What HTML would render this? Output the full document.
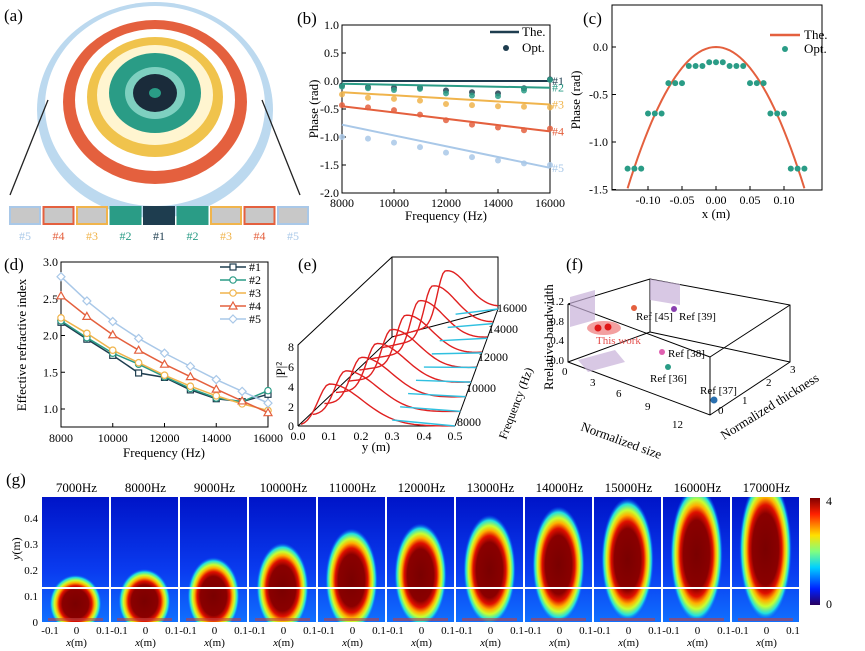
<!DOCTYPE html>
<html><head><meta charset="utf-8"><style>
body{margin:0;background:#fff}
svg{display:block;font-family:"Liberation Serif",serif}
</style></head><body>
<svg id="root" width="865" height="651" viewBox="0 0 865 651">
<defs>
 <radialGradient id="blob" cx="50%" cy="50%" r="50%">
  <stop offset="0" stop-color="#7a0000"/><stop offset="0.5" stop-color="#8a0000"/><stop offset="0.62" stop-color="#e01000"/>
  <stop offset="0.72" stop-color="#ffb000"/><stop offset="0.8" stop-color="#c8ff30"/><stop offset="0.9" stop-color="#20e0e0"/>
  <stop offset="1" stop-color="#0040ff" stop-opacity="0"/>
 </radialGradient>
 <linearGradient id="bg" x1="0" y1="0" x2="0" y2="1"><stop offset="0" stop-color="#0014c8"/><stop offset="0.6" stop-color="#0a3cf0"/><stop offset="1" stop-color="#1070ff"/></linearGradient>
 <linearGradient id="cbar" x1="0" y1="1" x2="0" y2="0">
  <stop offset="0" stop-color="#2a0060"/><stop offset="0.15" stop-color="#0020ff"/><stop offset="0.35" stop-color="#00d0ff"/>
  <stop offset="0.5" stop-color="#80ff80"/><stop offset="0.65" stop-color="#ffe000"/><stop offset="0.85" stop-color="#ff2000"/><stop offset="1" stop-color="#800000"/>
 </linearGradient>
</defs>

<g>
 <text x="4" y="21" font-size="17">(a)</text>
 <ellipse cx="155" cy="110" rx="118" ry="108" fill="#bcd9ef"/>
 <ellipse cx="155" cy="106" rx="110" ry="100" fill="#fff"/>
 <ellipse cx="155" cy="102" rx="92" ry="82" fill="#e4603e"/>
 <ellipse cx="155" cy="100" rx="80" ry="71" fill="#fff"/>
 <ellipse cx="155" cy="97" rx="68" ry="60" fill="#f0c34c"/>
 <ellipse cx="155" cy="95" rx="58" ry="50" fill="#fff5d0"/>
 <ellipse cx="155" cy="93" rx="46" ry="40" fill="#2a9c86"/>
 <ellipse cx="155" cy="93" rx="30" ry="26" fill="#7ed0c0"/>
 <ellipse cx="155" cy="93" rx="22" ry="19" fill="#1a2b3a"/>
 <ellipse cx="155" cy="93" rx="6" ry="5" fill="#2a9c86"/>
 <line x1="48" y1="100" x2="10" y2="195" stroke="#222" stroke-width="1.3"/>
 <line x1="262" y1="100" x2="300" y2="195" stroke="#222" stroke-width="1.3"/>
 <g id="cells"></g>
</g>

<g id="pb">
 <text x="297" y="24" font-size="17">(b)</text>
</g>
<g id="pc">
 <text x="583" y="24" font-size="17">(c)</text>
</g>
<g id="pd">
 <text x="4" y="270" font-size="17">(d)</text>
</g>

<g id="pe">
 <text x="298" y="270" font-size="17">(e)</text>
 <polyline points="298,426 298,345 392,257 498,257 498,309" fill="none" stroke="#000" stroke-width="1"/>
 <line x1="298" y1="426" x2="392" y2="337" stroke="#000"/>
 <line x1="392" y1="257" x2="392" y2="337" stroke="#000"/>
 <line x1="392" y1="337" x2="498" y2="309" stroke="#000"/>
 <line x1="298" y1="426" x2="455" y2="426" stroke="#000"/>
 <line x1="455" y1="426" x2="498" y2="309" stroke="#000"/>
 <g id="ecurves"></g>
 <g font-size="12">
  <text x="298" y="440" text-anchor="middle">0.0</text><text x="329" y="440" text-anchor="middle">0.1</text>
  <text x="361" y="440" text-anchor="middle">0.2</text><text x="392" y="440" text-anchor="middle">0.3</text>
  <text x="424" y="440" text-anchor="middle">0.4</text><text x="455" y="440" text-anchor="middle">0.5</text>
  <text x="294" y="430" text-anchor="end">0</text><text x="294" y="411" text-anchor="end">2</text>
  <text x="294" y="391" text-anchor="end">4</text><text x="294" y="371" text-anchor="end">6</text><text x="294" y="351" text-anchor="end">8</text>
  <text x="457" y="426">8000</text><text x="466" y="392">10000</text><text x="478" y="361">12000</text>
  <text x="488" y="333">14000</text><text x="497" y="312">16000</text>
 </g>
 <text x="376" y="451" font-size="13" text-anchor="middle">y (m)</text>
 <text x="285" y="370" font-size="13" text-anchor="middle" transform="rotate(-90 285 370)">|P|²</text>
 <text transform="translate(506 440) rotate(-69)" font-size="12">Frequency (Hz)</text>
</g>

<g id="pf">
 <text x="566" y="270" font-size="17">(f)</text>
 <g fill="none" stroke="#000" stroke-width="1">
  <polyline points="568,304 650,279 790,305 790,362 710,415 568,362 568,304"/>
  <line x1="650" y1="279" x2="650" y2="332"/><line x1="568" y1="362" x2="650" y2="332"/><line x1="650" y1="332" x2="790" y2="362"/>
  <line x1="568" y1="304" x2="710" y2="357"/><line x1="710" y1="357" x2="790" y2="305"/><line x1="710" y1="357" x2="710" y2="415"/>
 </g>
 <polygon points="570,297 595,290 595,320 570,327" fill="#c8b0d8" opacity="0.7"/>
 <polygon points="650,279 680,284 680,305 650,300" fill="#c8b0d8" opacity="0.7"/>
 <polygon points="578,360 615,350 625,362 588,372" fill="#c8b0d8" opacity="0.7"/>
 <ellipse cx="604" cy="328" rx="17" ry="7" fill="#f3a0a0"/>
 <circle cx="598" cy="328" r="3.5" fill="#e01818"/><circle cx="608" cy="327" r="3.5" fill="#e01818"/>
 <circle cx="634" cy="308" r="3" fill="#e4603e"/><circle cx="674" cy="309" r="3" fill="#8a40b0"/>
 <circle cx="662" cy="352" r="3" fill="#e060b0"/><circle cx="668" cy="367" r="3" fill="#2a9c86"/><circle cx="714" cy="400" r="3.5" fill="#2a70b0"/>
 <g font-size="11">
  <text x="636" y="320">Ref [45]</text><text x="679" y="320">Ref [39]</text><text x="668" y="357">Ref [38]</text>
  <text x="650" y="382">Ref [36]</text><text x="700" y="394">Ref [37]</text>
  <text x="596" y="344" fill="#e4504e">This work</text>
  <text x="564" y="305" text-anchor="end">1.2</text><text x="564" y="325" text-anchor="end">0.8</text>
  <text x="564" y="344" text-anchor="end">0.4</text><text x="564" y="364" text-anchor="end">0.0</text>
  <text x="562" y="375">0</text><text x="590" y="386">3</text><text x="616" y="397">6</text><text x="645" y="410">9</text><text x="672" y="428">12</text>
  <text x="718" y="414">0</text><text x="742" y="404">1</text><text x="766" y="386">2</text><text x="790" y="373">3</text>
 </g>
 <text transform="translate(580 430) rotate(20)" font-size="13">Normalized size</text>
 <text transform="translate(724 440) rotate(-32)" font-size="13">Normalized thickness</text>
 <text transform="translate(553 390) rotate(-90)" font-size="13">Rrelative bandwidth</text>
</g>

<g id="pg">
 <text x="6" y="485" font-size="17">(g)</text>
 <text x="20" y="560" font-size="12" transform="rotate(-90 20 560)"><tspan font-style="italic">y</tspan>(m)</text>
 <g font-size="11">
  <text x="38" y="522" text-anchor="end">0.4</text><text x="38" y="548" text-anchor="end">0.3</text>
  <text x="38" y="574" text-anchor="end">0.2</text><text x="38" y="600" text-anchor="end">0.1</text><text x="38" y="626" text-anchor="end">0</text>
 </g>
 <g id="gpanels"></g>
 <line x1="42" y1="588" x2="800" y2="588" stroke="#fff" stroke-width="2"/>
 <rect x="810" y="498" width="10" height="107" fill="url(#cbar)"/>
 <text x="826" y="505" font-size="12">4</text><text x="826" y="608" font-size="12">0</text>
</g>
</svg>

<script>
const NS="http://www.w3.org/2000/svg";
function mk(p,t,a,txt){const e=document.createElementNS(NS,t);for(const k in a)e.setAttribute(k,a[k]);if(txt!==undefined)e.textContent=txt;p.appendChild(e);return e;}
const colors=["#1e3d4f","#2a9c86","#f0b44c","#e4603e","#a9c8e8"];
const seriesNames=["#1","#2","#3","#4","#5"];

// ===== Panel b data =====
const bFreq=[8000,9000,10000,11000,12000,13000,14000,15000,16000];
const bTheStart=[0,-0.05,-0.2,-0.45,-0.78];
const bTheEnd=[0,-0.12,-0.42,-0.9,-1.55];
const bOpt1=[-0.08,-0.11,-0.12,-0.12,-0.17,-0.2,-0.22,-0.13,0.03];
const bOpt2=[-0.1,-0.13,-0.16,-0.14,-0.22,-0.26,-0.27,-0.17,0.02];
const bOpt3=[-0.24,-0.3,-0.32,-0.35,-0.41,-0.43,-0.45,-0.46,-0.47];
const bOpt4=[-0.43,-0.47,-0.52,-0.6,-0.7,-0.78,-0.83,-0.88,-0.85];
const bOpt5=[-1.0,-1.03,-1.1,-1.18,-1.28,-1.36,-1.42,-1.47,-1.5];
const bYTicks=[1.0,0.5,0.0,-0.5,-1.0,-1.5,-2.0];
const bXTicks=[8000,10000,12000,14000,16000];

// ===== Panel c data =====
const cX=[-0.13,-0.12,-0.11,-0.1,-0.09,-0.08,-0.07,-0.06,-0.05,-0.04,-0.03,-0.02,-0.01,0,0.01,0.02,0.03,0.04,0.05,0.06,0.07,0.08,0.09,0.1,0.11,0.12,0.13];
const cOpt=[-1.28,-1.28,-1.28,-0.7,-0.7,-0.7,-0.38,-0.38,-0.38,-0.2,-0.2,-0.2,-0.16,-0.16,-0.16,-0.2,-0.2,-0.2,-0.38,-0.38,-0.38,-0.7,-0.7,-0.7,-1.28,-1.28,-1.28];
const cCurvature=[-88];
const cYTicks=[0.0,-0.5,-1.0,-1.5];
const cXTicks=[-0.10,-0.05,0.00,0.05,0.10];

// ===== Panel d data =====
const dFreq=[8000,9000,10000,11000,12000,13000,14000,15000,16000];
const dN1=[2.18,1.95,1.73,1.49,1.43,1.26,1.14,1.1,1.2];
const dN2=[2.2,1.97,1.76,1.61,1.44,1.28,1.15,1.1,1.25];
const dN3=[2.24,2.03,1.8,1.63,1.46,1.31,1.18,1.07,0.98];
const dN4=[2.54,2.26,2.01,1.8,1.61,1.44,1.27,1.11,0.95];
const dN5=[2.8,2.47,2.19,1.96,1.76,1.58,1.4,1.24,1.08];
const dYTicks=[3.0,2.5,2.0,1.5,1.0];
const dXTicks=[8000,10000,12000,14000,16000];

// ===== Panel g data =====
const gFreqs=[7000,8000,9000,10000,11000,12000,13000,14000,15000,16000,17000];
const gFocusY=[0.07,0.08,0.1,0.13,0.16,0.18,0.2,0.22,0.24,0.26,0.28];
const gHalfLen=[0.09,0.1,0.12,0.14,0.16,0.16,0.17,0.18,0.19,0.21,0.22];

// ---------- Panel b ----------
(function(){
 const g=document.getElementById('pb');
 const x=v=>342+(v-8000)/8000*208, y=v=>25+(1-v)*56;
 mk(g,'rect',{x:342,y:25,width:208,height:168,fill:'none',stroke:'#000'});
 bYTicks.forEach(t=>{mk(g,'line',{x1:342,x2:346,y1:y(t),y2:y(t),stroke:'#000'});mk(g,'text',{x:339,y:y(t)+4,'font-size':12,'text-anchor':'end'},t.toFixed(1));});
 bXTicks.forEach(t=>{mk(g,'line',{x1:x(t),x2:x(t),y1:193,y2:189,stroke:'#000'});mk(g,'text',{x:x(t),y:207,'font-size':12,'text-anchor':'middle'},String(t));});
 const opts=[bOpt1,bOpt2,bOpt3,bOpt4,bOpt5];
 for(let i=0;i<5;i++){
  const l=mk(g,'line',{x1:x(8000),y1:y(bTheStart[i]),x2:x(16000),y2:y(bTheEnd[i]),stroke:colors[i],'stroke-width':2});
  
  
  opts[i].forEach((v,j)=>{const c=mk(g,'circle',{cx:x(bFreq[j]),cy:y(v),r:3,fill:colors[i],opacity:0.85});
   
   });
  mk(g,'text',{x:552,y:y(bTheEnd[i])+4,'font-size':12,fill:colors[i]},seriesNames[i]);
 }
 mk(g,'text',{x:446,y:220,'font-size':13,'text-anchor':'middle'},'Frequency (Hz)');
 mk(g,'text',{x:318,y:109,'font-size':13,'text-anchor':'middle',transform:'rotate(-90 318 109)'},'Phase (rad)');
 mk(g,'line',{x1:490,x2:519,y1:32,y2:32,stroke:colors[0],'stroke-width':2.5});
 mk(g,'text',{x:522,y:36,'font-size':13},'The.');
 mk(g,'circle',{cx:506,cy:48,r:3,fill:colors[0]});
 mk(g,'text',{x:522,y:52,'font-size':13},'Opt.');
})();

// ---------- Panel c ----------
(function(){
 const g=document.getElementById('pc');
 const x=v=>716+v*680, y=v=>47-v*95;
 mk(g,'rect',{x:612,y:5,width:210,height:185,fill:'none',stroke:'#000'});
 cYTicks.forEach(t=>{mk(g,'line',{x1:612,x2:616,y1:y(t),y2:y(t),stroke:'#000'});mk(g,'text',{x:608,y:y(t)+4,'font-size':12,'text-anchor':'end'},t.toFixed(1));});
 cXTicks.forEach(t=>{mk(g,'line',{x1:x(t),x2:x(t),y1:190,y2:186,stroke:'#000'});mk(g,'text',{x:x(t),y:204,'font-size':12,'text-anchor':'middle'},t.toFixed(2));});
 let d='';for(let v=-0.14;v<=0.1501;v+=0.005){const py=y(cCurvature[0]*v*v);if(py>190)continue;d+=(d?'L':'M')+x(v).toFixed(1)+','+py.toFixed(1);}
 const p=mk(g,'path',{d:d,fill:'none',stroke:'#e4603e','stroke-width':2});
 
 
 cX.forEach((v,i)=>{const c=mk(g,'circle',{cx:x(v),cy:y(cOpt[i]),r:3,fill:'#2a9c86'});
  
  });
 mk(g,'text',{x:716,y:218,'font-size':13,'text-anchor':'middle'},'x (m)');
 mk(g,'text',{x:580,y:100,'font-size':13,'text-anchor':'middle',transform:'rotate(-90 580 100)'},'Phase (rad)');
 mk(g,'line',{x1:770,x2:800,y1:35,y2:35,stroke:'#e4603e','stroke-width':2.5});
 mk(g,'text',{x:804,y:39,'font-size':13},'The.');
 mk(g,'circle',{cx:785,cy:49,r:3,fill:'#2a9c86'});
 mk(g,'text',{x:804,y:53,'font-size':13},'Opt.');
})();

// ---------- Panel d ----------
(function(){
 const g=document.getElementById('pd');
 const x=v=>61+(v-8000)/8000*207;
 const Y=v=>262+(3-v)*73.5;
 mk(g,'rect',{x:61,y:262,width:207,height:165,fill:'none',stroke:'#000'});
 dYTicks.forEach(t=>{mk(g,'line',{x1:61,x2:65,y1:Y(t),y2:Y(t),stroke:'#000'});mk(g,'text',{x:58,y:Y(t)+4,'font-size':12,'text-anchor':'end'},t.toFixed(1));});
 dXTicks.forEach(t=>{mk(g,'line',{x1:x(t),x2:x(t),y1:427,y2:423,stroke:'#000'});mk(g,'text',{x:x(t),y:442,'font-size':12,'text-anchor':'middle'},String(t));});
 const ser=[dN1,dN2,dN3,dN4,dN5];
 const mkShape=(i,cx,cy)=>{
  if(i===0) return mk(g,'rect',{x:cx-3,y:cy-3,width:6,height:6,fill:'#fff',stroke:colors[i],'stroke-width':1.2});
  if(i===3) return mk(g,'polygon',{points:`${cx},${cy-4} ${cx+4},${cy+3} ${cx-4},${cy+3}`,fill:'#fff',stroke:colors[i],'stroke-width':1.2});
  if(i===4) return mk(g,'polygon',{points:`${cx},${cy-4} ${cx+4},${cy} ${cx},${cy+4} ${cx-4},${cy}`,fill:'#fff',stroke:colors[i],'stroke-width':1.2});
  return mk(g,'circle',{cx:cx,cy:cy,r:3.2,fill:'#fff',stroke:colors[i],'stroke-width':1.2});
 };
 ser.forEach((s,i)=>{
  const pl=mk(g,'polyline',{points:s.map((v,j)=>x(dFreq[j])+','+Y(v)).join(' '),fill:'none',stroke:colors[i],'stroke-width':1.5});
  
  
  s.forEach((v,j)=>{const m=mkShape(i,x(dFreq[j]),Y(v));
   
   });
  const ly=267+i*13;
  mk(g,'line',{x1:220,x2:246,y1:ly,y2:ly,stroke:colors[i],'stroke-width':1.5});
  mkShape(i,233,ly);
  mk(g,'text',{x:249,y:ly+4,'font-size':12},seriesNames[i]);
 });
 mk(g,'text',{x:164,y:457,'font-size':13,'text-anchor':'middle'},'Frequency (Hz)');
 mk(g,'text',{x:26,y:345,'font-size':13,'text-anchor':'middle',transform:'rotate(-90 26 345)'},'Effective refractive index');
})();

// ---------- Panel a cells ----------
(function(){
 const g=document.getElementById('cells');
 const order=[4,3,2,1,0,1,2,3,4];
 order.forEach((c,i)=>{
  const cx=10+i*33.5;
  mk(g,'rect',{x:cx,y:207,width:30,height:17,fill:c===0?'#1e3d4f':(c===1?'#2a9c86':'#c8c8c8'),stroke:colors[c],'stroke-width':2});
  mk(g,'text',{x:cx+15,y:240,'font-size':12,'text-anchor':'middle',fill:colors[c]},seriesNames[c]);
 });
})();

// ---------- Panel e curves ----------
(function(){
 const g=document.getElementById('ecurves');
 const n=9;
 for(let k=0;k<n;k++){
  const f=k/(n-1);
  const ox=298+f*94, oy=426-f*89, ex=455+f*43, ey=426-f*117;
  const peak=0.1+f*0.15, amp=42+f*10;
  let d='';
  for(let t=0.02;t<=1.001;t+=0.02){
   const px=ox+(ex-ox)*t, base=oy+(ey-oy)*t;
   const u=t*0.5; const v=Math.exp(-Math.pow((u-peak)/(u<peak?0.05:0.15),2));
   d+=(d?'L':'M')+px.toFixed(1)+','+(base-v*amp).toFixed(1);
  }
  mk(g,'path',{d:d,fill:'none',stroke:'#e02020','stroke-width':1.4});
  mk(g,'line',{x1:ox+(ex-ox)*0.6,y1:oy+(ey-oy)*0.6-6,x2:ex,y2:ey,stroke:'#30c0e0','stroke-width':1.4});
 }
})();

// ---------- Panel g ----------
(function(){
 const g=document.getElementById('gpanels');
 const w=69, top=497, bot=622, yscale=260, xscale=248;
 gFreqs.forEach((f,i)=>{
  const x0=42+i*w;
  const p=mk(g,'g',{});
  
  
  const cp=mk(p,'clipPath',{id:'cp'+i});
  mk(cp,'rect',{x:x0,y:top,width:w-2,height:bot-top});
  mk(p,'rect',{x:x0,y:top,width:w-2,height:bot-top,fill:'url(#bg)'});
  const cy=bot-gFocusY[i]*yscale, ry=gHalfLen[i]*yscale/0.8;
  mk(p,'ellipse',{cx:x0+w/2-1,cy:cy,rx:0.085*xscale/0.8,ry:ry,fill:'url(#blob)','clip-path':'url(#cp'+i+')'});
  mk(p,'rect',{x:x0+6,y:bot-4,width:w-14,height:3,fill:'#c04040',opacity:0.6});
  mk(g,'text',{x:x0+w/2,y:492,'font-size':13,'text-anchor':'middle'},f+'Hz');
  mk(g,'text',{x:x0+8,y:634,'font-size':11,'text-anchor':'middle'},'-0.1');
  mk(g,'text',{x:x0+w/2,y:634,'font-size':11,'text-anchor':'middle'},'0');
  mk(g,'text',{x:x0+w-8,y:634,'font-size':11,'text-anchor':'middle'},'0.1');
  const t=mk(g,'text',{x:x0+w/2,y:646,'font-size':11,'text-anchor':'middle'});
  mk(t,'tspan',{'font-style':'italic'},'x');
  mk(t,'tspan',{},'(m)');
 });
})();
</script>
</body></html>
